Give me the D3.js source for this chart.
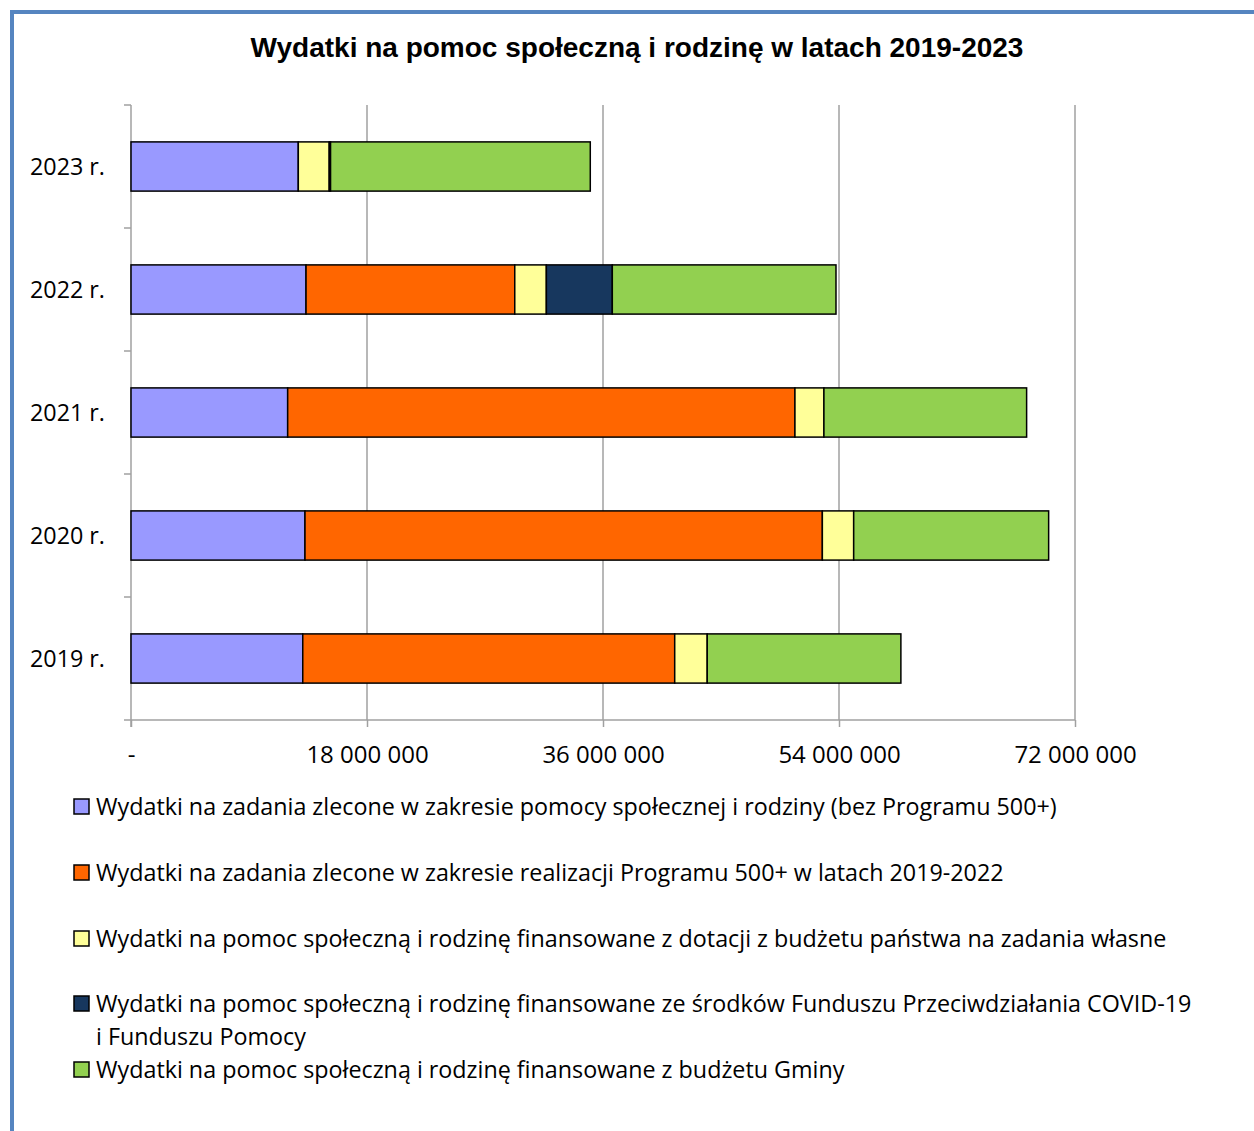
<!DOCTYPE html>
<html>
<head>
<meta charset="utf-8">
<script src="https://cdn.jsdelivr.net/npm/d3@7"></script>
<style>
  html, body { margin: 0; padding: 0; background: #fff; }
  svg { display: block; }
</style>
</head>
<body>
<svg id="chart" width="1254" height="1131"></svg>
<script>
// ---- DATA ----
const title = "Wydatki na pomoc społeczną i rodzinę w latach 2019-2023";
const categories = ["2023 r.", "2022 r.", "2021 r.", "2020 r.", "2019 r."];
const legendLines = [
  ["Wydatki na zadania zlecone w zakresie pomocy społecznej i rodziny (bez Programu 500+)"],
  ["Wydatki na zadania zlecone w zakresie realizacji Programu 500+ w latach 2019-2022"],
  ["Wydatki na pomoc społeczną i rodzinę finansowane z dotacji z budżetu państwa na zadania własne"],
  ["Wydatki na pomoc społeczną i rodzinę finansowane ze środków Funduszu Przeciwdziałania COVID-19", "i Funduszu Pomocy"],
  ["Wydatki na pomoc społeczną i rodzinę finansowane z budżetu Gminy"]
];
// values in PLN, order matches categories
const zleconeBez500 = [12760000, 13350000, 11950000, 13270000, 13100000];
const program500    = [0, 15920000, 38690000, 39460000, 28370000];
const dotacjeWlasne = [2360000, 2410000, 2210000, 2390000, 2480000];
const covidFundusz  = [100000, 5030000, 0, 0, 0];
const budzetGminy   = [19810000, 17060000, 15460000, 14870000, 14770000];
const tickValues = [0, 18000000, 36000000, 54000000, 72000000];
const tickLabels = ["-", "18 000 000", "36 000 000", "54 000 000", "72 000 000"];
const colors = ["#9999ff", "#ff6600", "#ffff99", "#17375e", "#92d050"];

// ---- BUILD ----
const keys = ["s0", "s1", "s2", "s3", "s4"];
const seriesArrays = [zleconeBez500, program500, dotacjeWlasne, covidFundusz, budzetGminy];
const rows = categories.map((c, i) => {
  const r = { cat: c };
  keys.forEach((k, j) => r[k] = seriesArrays[j][i]);
  return r;
});
const stacked = d3.stack().keys(keys)(rows);

const svg = d3.select("#chart");
const FONT = "'Open Sans', 'Noto Sans', sans-serif";

// frame (blue border, left and top)
svg.append("line").attr("x1", 12).attr("x2", 12).attr("y1", 10).attr("y2", 1131)
  .attr("stroke", "#5585c0").attr("stroke-width", 4);
svg.append("line").attr("x1", 10).attr("x2", 1254).attr("y1", 12).attr("y2", 12)
  .attr("stroke", "#5585c0").attr("stroke-width", 4);

// title
svg.append("text").attr("x", 637).attr("y", 57).attr("text-anchor", "middle")
  .attr("font-family", "'Liberation Sans', Arial, sans-serif").attr("font-weight", "bold")
  .attr("font-size", 28).attr("fill", "#000").text(title);

const x = d3.scaleLinear().domain([0, 72000000]).range([131, 1075]);
const y = d3.scaleBand().domain(categories).range([105, 720]).paddingInner(0.6).paddingOuter(0.3);

// gridlines
svg.append("g").selectAll("line").data(tickValues.slice(1)).join("line")
  .attr("x1", d => x(d)).attr("x2", d => x(d)).attr("y1", 105).attr("y2", 720)
  .attr("stroke", "#a0a0a0").attr("stroke-width", 1.5);

// x axis
const xAxis = d3.axisBottom(x).tickValues(tickValues).tickSize(7).tickPadding(12)
  .tickFormat((d, i) => tickLabels[i]);
const gx = svg.append("g").attr("transform", "translate(0,720)").call(xAxis);
gx.select(".domain").attr("d", "M124,0H1075").attr("stroke", "#a0a0a0").attr("stroke-width", 1.5);
gx.selectAll(".tick line").attr("stroke", "#a0a0a0").attr("stroke-width", 1.5);
gx.selectAll(".tick text").attr("font-family", FONT).attr("font-size", 24).attr("fill", "#000")
  .attr("dy", null).attr("y", 43);

// y axis line + category boundary ticks
const step = y.step();
const boundaries = d3.range(categories.length).map(i => 105 + i * step);
svg.append("line").attr("x1", 131).attr("x2", 131).attr("y1", 105).attr("y2", 727)
  .attr("stroke", "#a0a0a0").attr("stroke-width", 1.5);
svg.append("g").selectAll("line").data(boundaries).join("line")
  .attr("x1", 124).attr("x2", 131).attr("y1", d => d).attr("y2", d => d)
  .attr("stroke", "#a0a0a0").attr("stroke-width", 1.5);

// category labels
svg.append("g").selectAll("text").data(categories).join("text")
  .attr("x", 105).attr("y", d => y(d) + y.bandwidth() / 2 + 8)
  .attr("text-anchor", "end").attr("font-family", FONT).attr("font-size", 23.3).attr("fill", "#000")
  .text(d => d);

// bars
svg.append("g").selectAll("g").data(stacked).join("g")
  .attr("fill", (d, i) => colors[i])
  .selectAll("rect").data(d => d.filter(p => p[1] - p[0] > 0)).join("rect")
  .attr("x", d => x(d[0])).attr("width", d => x(d[1]) - x(d[0]))
  .attr("y", d => y(d.data.cat)).attr("height", y.bandwidth())
  .attr("stroke", "#000").attr("stroke-width", 1.5);

// legend
const legendY = [807, 873, 939, 1004, 1070];
const lg = svg.append("g");
legendLines.forEach((lines, i) => {
  lg.append("rect").attr("x", 74).attr("y", legendY[i] - 8).attr("width", 15).attr("height", 15)
    .attr("fill", colors[i]).attr("stroke", "#000").attr("stroke-width", 1.5);
  lines.forEach((t, j) => {
    lg.append("text").attr("x", 96).attr("y", legendY[i] + 8 + j * 33)
      .attr("font-family", FONT).attr("font-size", 23.3).attr("fill", "#000").text(t);
  });
});
</script>
</body>
</html>
